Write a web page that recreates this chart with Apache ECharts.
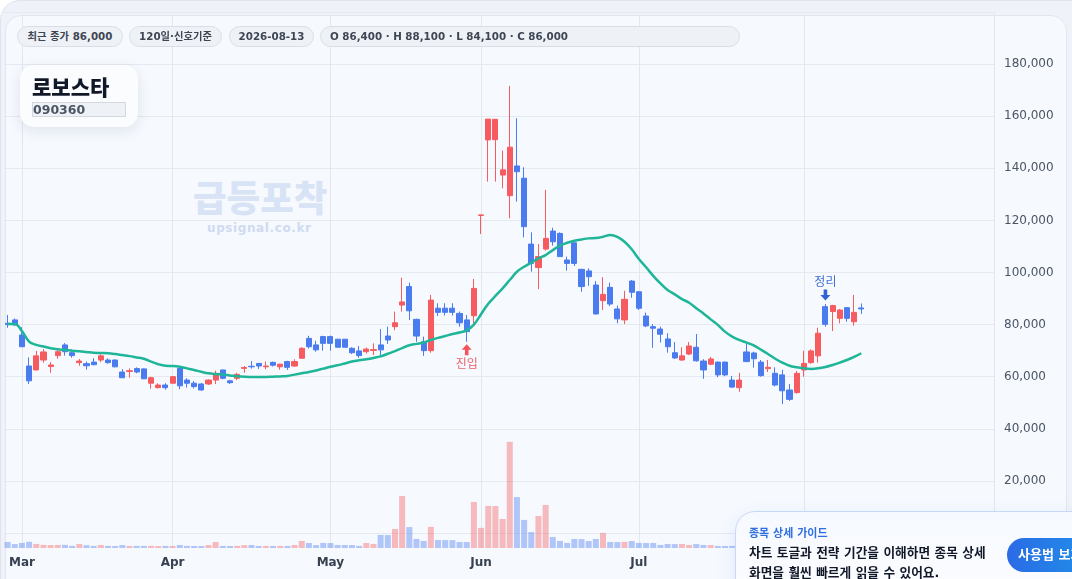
<!DOCTYPE html>
<html>
<head>
<meta charset="utf-8">
<script src="https://cdn.jsdelivr.net/npm/echarts@6/dist/echarts.min.js"></script>
<style>
html,body{margin:0;padding:0;width:1072px;height:579px;overflow:hidden;background:#ffffff;font-family:"DejaVu Sans","Noto Sans CJK KR",sans-serif;}
#outer{position:absolute;left:0;top:0;width:1110px;height:640px;border:1px solid #dde4ee;border-radius:20px;background:#eff3f9;box-sizing:border-box;}
#panel{position:absolute;left:5px;top:15px;width:1062px;height:640px;border:1px solid #e2e7ef;border-radius:16px;background:#f6f9fe;box-sizing:border-box;}
#wm1{position:absolute;left:193px;top:171px;font-size:36.5px;font-weight:800;color:#d9e3f6;font-family:"Noto Sans CJK KR",sans-serif;line-height:52px;white-space:nowrap;}
#wm2{position:absolute;left:207px;top:220px;font-size:12px;font-weight:700;color:#cfdbf1;letter-spacing:0.6px;line-height:16px;white-space:nowrap;}
#chart{position:absolute;left:0;top:0;width:1072px;height:579px;}
.pill{position:absolute;top:26px;height:21px;border:1px solid #d8dee7;border-radius:11px;background:#eef2f7;box-sizing:border-box;font-size:10.3px;font-weight:700;color:#3e4553;line-height:19px;text-align:center;white-space:nowrap;}
#title{position:absolute;left:20px;top:65px;width:118px;height:62px;border-radius:14px;background:#fbfcfe;box-shadow:0 4px 14px rgba(20,40,80,0.10);}
#title .name{position:absolute;left:12px;top:6px;font-size:21px;font-weight:800;color:#111827;line-height:30px;white-space:nowrap;font-family:"Noto Sans CJK KR",sans-serif;}
#title .code{position:absolute;left:12px;top:37px;width:94px;height:15px;background:#eef1f5;border:1px solid #d3d8e0;box-sizing:border-box;font-size:12.5px;font-weight:700;color:#4b5563;line-height:13px;}
#guide{position:absolute;left:735px;top:511px;width:400px;height:120px;border:1px solid #c8d8f4;border-radius:20px;background:linear-gradient(180deg,#f6f9ff,#fdfeff);box-shadow:0 6px 20px rgba(37,99,235,0.10);box-sizing:border-box;}
#guide .h{position:absolute;left:13px;top:15px;font-size:11px;font-weight:700;color:#2f6fe0;line-height:14px;white-space:nowrap;}
#guide .b{position:absolute;left:13px;top:31px;font-size:12.7px;font-weight:700;color:#111827;line-height:20px;white-space:nowrap;}
#guide .btn{position:absolute;left:271px;top:26px;height:34px;width:120px;padding:0 0 0 11px;box-sizing:border-box;border-radius:17px;background:linear-gradient(90deg,#2a6be6,#1d9de9);color:#ffffff;font-size:13px;font-weight:700;line-height:34px;white-space:nowrap;}
</style>
</head>
<body>
<div id="outer"></div>
<div id="panel"></div>
<div id="wm1">급등포착</div>
<div id="wm2">upsignal.co.kr</div>
<div id="chart"></div>
<div class="pill" style="left:17px;width:106px;">최근 종가 86,000</div>
<div class="pill" style="left:129px;width:93px;">120일·신호기준</div>
<div class="pill" style="left:229px;width:85px;">2026-08-13</div>
<div class="pill" style="left:320px;width:420px;text-align:left;padding-left:9px;">O 86,400 · H 88,100 · L 84,100 · C 86,000</div>
<div id="title"><div class="name">로보스타</div><div class="code">090360</div></div>
<div id="guide">
  <div class="h">종목 상세 가이드</div>
  <div class="b">차트 토글과 전략 기간을 이해하면 종목 상세<br>화면을 훨씬 빠르게 읽을 수 있어요.</div>
  <div class="btn">사용법 보기</div>
</div>
<script>
// ---- data (won) ----
const START_DATE = '2026-02-26';
const HOLIDAYS = ['2026-03-02'];
const N_DAYS = 120;
const N_PAD = 18;
const MONTH_NAMES = ['Jan','Feb','Mar','Apr','May','Jun','Jul','Aug','Sep','Oct','Nov','Dec'];

const OPEN = [80500,81800,76000,64100,62600,66400,63900,68100,72200,69200,
65400,65000,65600,66400,66400,66400,61800,62000,63100,63000,
57500,55800,56800,57500,63200,58700,57500,57200,57200,58700,
62600,58400,59400,63200,64000,65100,63800,65500,63800,65800,
64100,67100,74700,72200,75400,75400,74400,74400,70900,69900,
69600,70100,72200,75600,79200,87500,94600,82000,73400,70000,
86300,86300,86300,84300,81800,83400,121900,150900,151000,137400,
129500,140900,136200,110900,101900,109000,115900,115000,104800,111400,
101200,100600,95200,89200,94300,86000,81800,96700,92600,83300,
79200,78300,74500,69200,66400,68700,71300,66000,64800,65600,
65600,58700,55800,69500,69100,65600,63100,61300,60700,54900,
53900,62600,65400,68000,86900,85000,82400,86500,81100,86400];

const CLOSE = [80000,79900,71500,58400,68000,69500,64500,69600,69600,68100,
66000,64200,64600,68000,65400,63800,59600,62300,61800,59200,
59600,56800,55800,60000,56500,57500,56200,54900,58700,61300,
59400,57700,60900,63500,63800,64100,64100,64400,64800,63600,
65800,70900,71500,70300,72800,72800,71300,71300,69200,68100,
70600,70400,70300,74100,80700,88700,85300,75600,70000,89400,
84700,84700,84700,80700,77300,93900,122100,158900,158800,139400,
148100,138700,117600,103500,106100,113100,111800,106100,103500,103500,
94600,98400,84100,91600,87900,82200,89700,92400,86300,79500,
78600,76300,71500,67200,68000,71800,66100,62600,66800,60700,
60700,56000,58700,65800,66900,60400,63600,56800,54600,51300,
61300,65100,69900,76700,80100,87300,85600,82400,84700,86000];

const LOW = [78800,79500,71500,57200,62400,65400,61500,66900,68100,67300,
64200,62700,64400,65600,65000,63600,59600,59600,61300,59200,
55400,55500,55000,57500,55200,55800,55500,54600,56800,57200,
59000,57200,58700,61500,63100,63000,62800,63900,62700,62600,
63800,67000,70800,69600,70000,70000,71300,71300,68700,67200,
68900,68300,67700,72600,77900,85000,81800,73400,68000,69200,
83300,83500,83500,79200,73400,79900,114800,134900,134900,132300,
120800,127200,113500,100300,93600,108400,110300,106000,100700,102500,
92600,94900,83800,85600,87100,80500,80200,90300,85600,79000,
71100,73100,69200,66800,66100,68300,65800,59200,64400,59800,
60200,55800,54200,65600,63500,60000,61800,56300,49500,50700,
53500,60000,65000,65400,79200,77500,80500,81100,79600,84100];

const HIGH = [83700,82300,79000,67400,69900,70600,65600,70900,72900,70500,
66800,65800,67100,68600,67100,66600,62900,63200,63600,63200,
60000,57500,57500,60200,63800,59400,58300,57600,59000,62300,
62600,58800,61500,64100,66000,65300,65800,65800,65000,66100,
66700,71300,75700,73800,75700,75800,74400,74400,71300,71800,
71200,72800,78300,79200,85000,98000,96100,82300,75400,91400,
88200,88200,88200,85000,83700,97500,122200,158900,158900,146800,
171600,159200,140400,115400,110900,131700,117200,115400,106100,111500,
101400,101600,96700,98200,96100,87300,93000,97100,92800,84600,
80200,79200,76700,73300,71300,73300,76400,66700,67600,65800,
65800,60300,61500,72600,69600,66400,66400,63600,62600,57200,
62200,70000,70500,78800,87900,87600,86000,86700,91400,88100];

const VOLUME = [182000,118000,152000,186000,121000,92000,88000,90000,95000,64000,
118000,86000,62000,91000,63000,60000,89000,61000,64000,62000,
63000,60000,62000,61000,92000,63000,61000,60000,88000,178000,
62000,60000,63000,87000,90000,61000,62000,60000,63000,61000,
92000,212000,151000,88000,152000,149000,91000,90000,89000,62000,
150000,121000,392000,388000,572000,1560000,628000,271000,212000,634000,
241000,238000,236000,182000,179000,1382000,603000,1262000,1258000,872000,
3185000,1528000,842000,478000,962000,1292000,331000,212000,152000,271000,
268000,209000,272000,452000,181000,178000,182000,208000,152000,149000,
151000,92000,121000,118000,122000,91000,119000,92000,88000,62000,
61000,63000,122000,148000,92000,118000,90000,122000,181000,149000,
238000,182000,212000,362000,421000,238000,182000,151000,271000,122000];

const MA = [80200,80200,77500,73500,72200,71600,70900,70500,70300,70000,
69800,69500,69200,69100,69000,68700,68300,67900,67400,66900,
65800,64800,64200,64100,63800,63200,62600,61900,61300,61000,
60800,60500,60200,60000,59900,59900,59900,60000,60100,60300,
60800,61300,61800,62400,63100,63800,64400,65100,65800,66300,
66700,67200,67800,68800,69800,71000,72100,72600,73100,74100,
74900,75600,76400,77000,77800,80000,84000,88000,91000,93900,
97100,100300,102200,103800,105400,106700,108600,110300,111400,112200,
112700,113100,113200,113700,114400,113700,111800,108900,105200,102000,
98700,95800,93300,91600,89800,88400,86300,84300,82000,79900,
77300,75400,74100,73100,72000,70400,68700,66900,65400,64200,
63600,63200,63000,63200,63700,64500,65400,66400,67600,69000];

const ENTRY_IDX = 64;   // 진입
const EXIT_IDX = 114;   // 정리
const PRICE_TICKS = {min: 0, max: 200000, step: 20000};
const VOL_MAX = 3300000;

// ---- calendar (trading days) ----
function tradingDays(start, count, holidays) {
  const out = [];
  const d = new Date(start + 'T00:00:00Z');
  while (out.length < count) {
    const s = d.toISOString().slice(0, 10);
    const wd = d.getUTCDay();
    if (wd !== 0 && wd !== 6 && holidays.indexOf(s) < 0) out.push(s);
    d.setUTCDate(d.getUTCDate() + 1);
  }
  return out;
}
const DATES = tradingDays(START_DATE, N_DAYS, HOLIDAYS);
const CATS = DATES.concat(Array.from({length: N_PAD}, (_, i) => 'pad' + (i + 1)));
function isMonthStart(i) {
  return i > 0 && i < DATES.length && DATES[i].slice(0, 7) !== DATES[i - 1].slice(0, 7);
}
function monthLabel(v) {
  const m = parseInt(String(v).slice(5, 7), 10);
  return isNaN(m) ? '' : MONTH_NAMES[m - 1];
}

const RED = '#f65b5f', BLUE = '#4a7bef';
const RED_V = 'rgba(246,91,95,0.40)', BLUE_V = 'rgba(74,123,239,0.40)';
const FONT = '"DejaVu Sans","Noto Sans CJK KR",sans-serif';
const GL = 4, GR = 78;
const STEP = (1072 - GL - GR) / CATS.length;

const candles = OPEN.map((o, i) => [o, CLOSE[i], LOW[i], HIGH[i]]);

const chart = echarts.init(document.getElementById('chart'), null, {renderer: 'canvas'});
chart.setOption({
  animation: false,
  backgroundColor: 'transparent',
  grid: [
    {left: GL, right: GR, top: 12, bottom: 46, containLabel: false, outerBoundsMode: 'none'},
    {left: GL, right: GR, top: 438, bottom: 31, containLabel: false, outerBoundsMode: 'none'},
    {left: GL + STEP / 2, right: GR + STEP / 2, top: 15, bottom: 31, containLabel: false, outerBoundsMode: 'none'}
  ],
  xAxis: [
    {type: 'category', gridIndex: 0, data: CATS, boundaryGap: true,
     axisLine: {show: false}, axisTick: {show: false}, axisLabel: {show: false}, splitLine: {show: false}},
    {type: 'category', gridIndex: 1, data: CATS, boundaryGap: true,
     axisLine: {show: false}, axisTick: {show: false}, splitLine: {show: false},
     axisLabel: {show: true, interval: (i) => isMonthStart(i), formatter: (v) => monthLabel(v),
       color: '#374151', fontWeight: 'bold', fontSize: 12, fontFamily: FONT, margin: 9}},
    {type: 'category', gridIndex: 2, data: CATS, boundaryGap: false,
     axisLine: {show: false}, axisTick: {show: false},
     axisLabel: {show: false, interval: (i) => isMonthStart(i)},
     splitLine: {show: true, interval: (i) => isMonthStart(i), lineStyle: {color: '#e2e7ee', width: 1}}}
  ],
  yAxis: [
    {type: 'value', gridIndex: 0, position: 'right', min: PRICE_TICKS.min, max: PRICE_TICKS.max, interval: PRICE_TICKS.step,
     axisLine: {show: true, lineStyle: {color: '#e2e7ee'}}, axisTick: {show: false},
     axisLabel: {color: '#4b5563', fontSize: 12, fontFamily: FONT, margin: 10, showMinLabel: false, showMaxLabel: false,
       formatter: (v) => v.toLocaleString('en-US')},
     splitLine: {show: true, lineStyle: {color: '#e5e9f0', width: 1}}},
    {type: 'value', gridIndex: 1, min: 0, max: VOL_MAX, show: false},
    {type: 'value', gridIndex: 2, min: 0, max: 1, show: false}
  ],
  series: [
    {type: 'candlestick', xAxisIndex: 0, yAxisIndex: 0, data: candles, barWidth: '78%',
     itemStyle: {color: RED, color0: BLUE, borderColor: RED, borderColor0: BLUE, borderWidth: 1},
     markPoint: {
       animation: false,
       data: [
         {coord: [CATS[ENTRY_IDX], LOW[ENTRY_IDX]],
          symbol: 'path://M5,0L10,5.5L6.8,5.5L6.8,11L3.2,11L3.2,5.5L0,5.5Z', symbolSize: [10, 11], symbolOffset: [0, 8],
          itemStyle: {color: '#f2555b'},
          label: {show: true, position: 'bottom', distance: 3.5, formatter: '진입', color: '#ec6268', fontSize: 12, fontFamily: FONT}},
         {coord: [CATS[EXIT_IDX], HIGH[EXIT_IDX]],
          symbol: 'path://M3.2,0L6.8,0L6.8,5.5L10,5.5L5,11L0,5.5L3.2,5.5Z', symbolSize: [10, 11], symbolOffset: [0, -9],
          itemStyle: {color: '#2f63d6'},
          label: {show: true, position: 'top', distance: 0.5, formatter: '정리', color: '#3f6fd3', fontSize: 12, fontFamily: FONT}}
       ]
     }},
    {type: 'line', name: 'MA', xAxisIndex: 0, yAxisIndex: 0, data: MA, smooth: 0.4, symbol: 'none', z: 3,
     lineStyle: {color: '#1eb598', width: 2.5}},
    {type: 'bar', name: 'Volume', xAxisIndex: 1, yAxisIndex: 1, data: VOLUME, barWidth: '84%',
     itemStyle: {color: (p) => (CLOSE[p.dataIndex] >= OPEN[p.dataIndex] ? RED_V : BLUE_V)}}
  ]
});
</script>
</body>
</html>
